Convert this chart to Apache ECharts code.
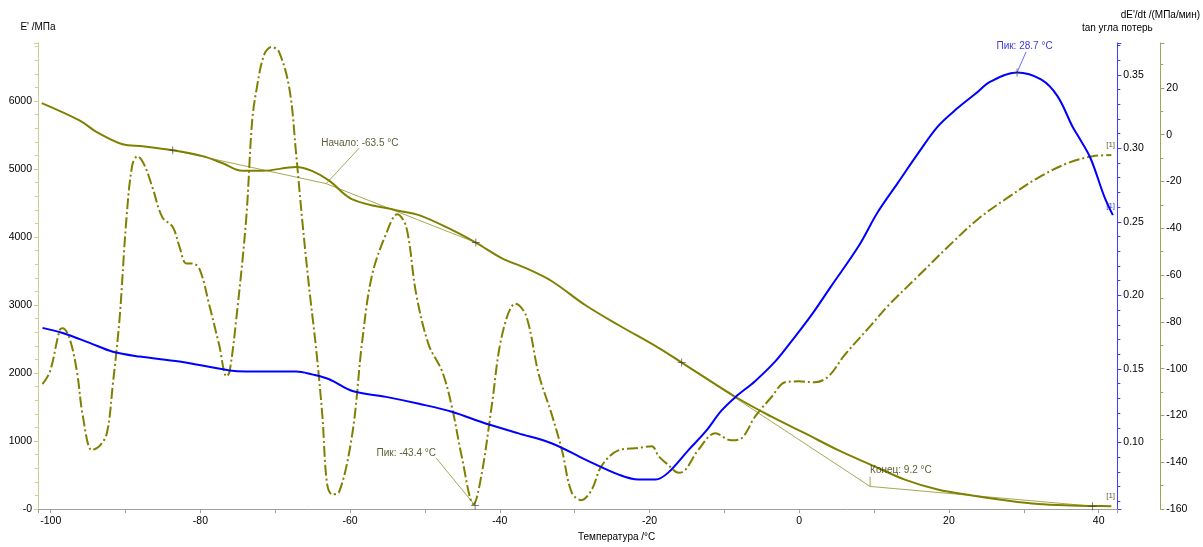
<!DOCTYPE html>
<html><head><meta charset="utf-8">
<script src="https://cdn.jsdelivr.net/npm/echarts@6/dist/echarts.min.js"></script>
<style>html,body{margin:0;padding:0;background:#fff}#c{width:1203px;height:547px}</style>
</head><body><div id="c"></div>
<script>
// ---- data (temperature °C, value) ----
const eModulus = [
  [-101.2,5970],[-96.1,5712],[-93.9,5547],[-90.4,5364],[-87.7,5335],[-83.7,5277],[-79.7,5190],
  [-77.1,5089],[-74.4,4973],[-71.7,4973],[-67.2,5031],[-65.1,4973],[-62.8,4829],[-59.7,4554],
  [-53.9,4395],[-50.8,4323],[-46.4,4106],[-43.2,3918],[-39.7,3687],[-36.5,3542],[-33.1,3354],
  [-28.5,2993],[-24.1,2703],[-18.8,2371],[-15.7,2154],[-8.5,1648],[-3.7,1359],[0.8,1113],
  [5.2,867],[9.6,651],[14.1,434],[18.5,289],[22.9,202],[27.5,130],[31.9,75],[36.3,52],
  [39.5,45],[41.7,43]
];
const tanDelta = [
  [-101.1,0.1779],[-98.4,0.1744],[-94.8,0.1677],[-91.7,0.1617],[-88.1,0.1584],[-82.8,0.1550],
  [-76.1,0.1490],[-73.9,0.1483],[-70.8,0.1483],[-67.2,0.1483],[-65.1,0.1463],[-62.8,0.1430],
  [-59.7,0.1350],[-55.2,0.1310],[-50.8,0.1263],[-46.4,0.1209],[-41.9,0.1129],[-37.5,0.1062],
  [-33.1,0.0995],[-28.5,0.0882],[-24.1,0.0781],[-21.5,0.0748],[-19.2,0.0748],[-17.5,0.0795],
  [-14.8,0.0948],[-12.5,0.1075],[-10.4,0.1216],[-8.5,0.1310],[-5.9,0.1417],[-3.2,0.1551],
  [-1.1,0.1684],[1.6,0.1864],[4.3,0.2065],[7.9,0.2332],[10.5,0.2567],[13.2,0.2767],
  [15.9,0.2967],[18.5,0.3148],[21.2,0.3275],[23.5,0.3369],[25.6,0.3455],[29.1,0.3515],
  [32.3,0.3468],[34.5,0.3355],[36.5,0.3148],[37.2,0.3088],[38.9,0.2934],[40.8,0.2666],[41.9,0.2546]
];
const dEdt = [
  [-101.1,-106.6],[-100.1,-101.2],[-98.8,-83.5],[-98.4,-82.7],[-97.5,-86.9],[-96.5,-101.2],
  [-95.7,-120.5],[-94.5,-134.8],[-93.5,-133.1],[-92.5,-127.6],[-91.7,-106.6],[-90.8,-78.5],
  [-89.9,-36.5],[-89.1,-12.9],[-88.4,-9.2],[-87.5,-12.9],[-86.4,-22.6],[-85.1,-35.2],
  [-83.7,-39.4],[-82.8,-47.8],[-81.9,-55.0],[-81.1,-55.0],[-80.1,-57.5],[-78.8,-73.0],
  [-77.5,-89.8],[-76.5,-103.3],[-76.1,-101.2],[-75.2,-78.5],[-73.9,-36.5],[-73.1,5.5],
  [-72.5,19.4],[-71.5,34.1],[-70.5,37.5],[-69.5,35.4],[-68.1,19.4],[-67.2,-8.7],[-66.4,-36.5],
  [-65.5,-64.6],[-64.5,-92.8],[-63.7,-120.5],[-63.1,-148.7],[-62.4,-153.7],[-61.5,-152.9],
  [-59.7,-127.6],[-58.4,-88.6],[-57.1,-60.4],[-55.2,-42.4],[-53.7,-34.0],[-52.5,-39.4],
  [-51.2,-67.6],[-49.5,-89.8],[-47.7,-101.2],[-46.4,-116.3],[-45.1,-137.3],[-43.5,-157.9],
  [-42.4,-144.5],[-41.1,-116.3],[-39.7,-85.6],[-37.9,-72.2],[-36.5,-77.2],[-34.8,-102.4],
  [-33.1,-119.2],[-31.7,-134.8],[-30.4,-152.9],[-29.1,-156.2],[-27.7,-151.6],[-26.4,-141.5],
  [-24.1,-134.8],[-21.5,-133.9],[-19.7,-133.1],[-18.8,-137.3],[-17.5,-141.1],[-16.1,-144.5],
  [-15.2,-143.2],[-13.5,-134.8],[-11.2,-127.6],[-9.1,-130.6],[-7.7,-129.7],[-5.9,-120.5],
  [-3.7,-112.1],[-1.9,-105.8],[-0.1,-105.4],[2.1,-105.8],[3.9,-103.3],[6.1,-94.0],
  [9.6,-81.4],[11.9,-73.0],[15.9,-60.4],[19.9,-47.8],[23.9,-36.0],[27.9,-26.8],
  [31.9,-18.4],[35.9,-12.1],[39.2,-9.2],[41.7,-8.7]
];
// onset / end construction (on E' axis)
const onsetTangents = [[-83.7,5277],[-63.2,4785],[-43.2,3918]];
const endTangents = [[-15.7,2154],[9.47,333],[39.2,43]];
const eMarkers = [[-83.7,5277],[-43.2,3918],[-15.7,2154],[39.2,43]];
const dEdtPeak = [[-43.3,-158.5]];
const tanPeak = [[29.1,0.3515]];
// annotation leaders
const onsetLeader = [[-63.2,4785],[-58.8,5306]];
const endLeader = [[9.47,333],[9.47,477]];
const dEdtLeader = [[-43.3,-158.5],[-48.5,-138.2]];
const tanLeader = [[29.1,0.3515],[30.3,0.3655]];
// annotation texts
const eLabels = [
  {value:[-58.7,5378], name:'Начало: -63.5 °C', align:'center'},
  {value:[9.47,564], name:'Конец: 9.2 °C', align:'left'},
  {value:[41.6,202], name:'[1]', align:'center', small:true}
];
const dEdtLabels = [
  {value:[-52.5,-136], name:'Пик: -43.4 °C', align:'center'},
  {value:[41.6,-4.5], name:'[1]', align:'center', small:true}
];
const tanLabels = [
  {value:[30.1,0.3696], name:'Пик: 28.7 °C', align:'center'},
  {value:[41.6,0.2606], name:'[1]', align:'center', small:true}
];

const FONT = '"Liberation Sans", Arial, sans-serif';
const OLIVE = '#808000';
const THIN = '#a8a858';
const TXT_OLIVE = '#333300';
const PLUS = 'path://M0,4.5H10V5.5H0Z M4.5,0H5.5V10H4.5Z';

function labelSeries(data, yIdx, color) {
  return {
    type: 'scatter', yAxisIndex: yIdx, symbolSize: 0, silent: true, z: 10,
    data: data.map(d => ({
      value: d.value, name: d.name,
      label: {
        show: true, position: [0, 0], formatter: '{b}',
        align: d.align, verticalAlign: 'middle',
        color: color, fontFamily: FONT, fontSize: d.small ? 8 : 10
      }
    }))
  };
}
function thinLine(data, yIdx, color) {
  return {type:'line', yAxisIndex:yIdx, data:data, symbol:'none', silent:true,
    lineStyle:{color:color, width:1}, z:3};
}

const chart = echarts.init(document.getElementById('c'), null, {renderer:'canvas'});
chart.setOption({
  animation: false,
  backgroundColor: '#fff',
  grid: {left: 38, right: 83, top: 43, bottom: 30, containLabel: false},
  xAxis: {
    type: 'value', min: -101.7, max: 42.5, splitNumber: 7,
    axisLine: {show: true, onZero: false, lineStyle: {color: '#a0a0a0'}},
    axisTick: {show: true, length: 4, lineStyle: {color: '#a0a0a0'}},
    minorTick: {show: true, splitNumber: 2, length: 4, lineStyle: {color: '#a0a0a0'}},
    splitLine: {show: false}, minorSplitLine: {show: false},
    axisLabel: {showMinLabel: false, showMaxLabel: false, margin: 7, color: '#000',
      fontFamily: FONT, fontSize: 10.5},
    name: 'Температура /°C', nameLocation: 'middle', nameGap: 17,
    nameTextStyle: {color: '#000', fontFamily: FONT, fontSize: 10, padding: [0, 0, 0, 78]}
  },
  yAxis: [
    {
      type: 'value', position: 'left', min: 0, max: 6853, interval: 1000,
      axisLine: {show: true, onZero: false, lineStyle: {color: '#cfcf95'}},
      axisTick: {show: true, length: 4, lineStyle: {color: '#cfcf95'}},
      minorTick: {show: true, splitNumber: 5, length: 3, lineStyle: {color: '#cfcf95'}},
      splitLine: {show: false},
      axisLabel: {showMaxLabel: false, margin: 6, color: '#000', fontFamily: FONT, fontSize: 10.5,
        formatter: v => v === 0 ? '-0' : String(v)},
      name: "E' /МПа", nameLocation: 'end', nameGap: 11,
      nameTextStyle: {color: '#000', fontFamily: FONT, fontSize: 10, align: 'center'}
    },
    {
      type: 'value', position: 'right', offset: 0, min: 0.0547, max: 0.3716, splitNumber: 6,
      axisLine: {show: true, onZero: false, lineStyle: {color: '#3c3cff'}},
      axisTick: {show: true, length: 4, lineStyle: {color: '#3c3cff'}},
      minorTick: {show: true, splitNumber: 5, length: 3, lineStyle: {color: '#3c3cff'}},
      splitLine: {show: false},
      axisLabel: {showMinLabel: false, showMaxLabel: false, margin: 6, color: '#000',
        fontFamily: FONT, fontSize: 10.5, formatter: v => v.toFixed(2)},
      name: 'tan угла потерь', nameLocation: 'end', nameGap: 10,
      nameTextStyle: {color: '#000', fontFamily: FONT, fontSize: 10, align: 'center'}
    },
    {
      type: 'value', position: 'right', offset: 43, min: -160, max: 39.2, interval: 20,
      axisLine: {show: true, onZero: false, lineStyle: {color: '#a3a35c'}},
      axisTick: {show: true, length: 4, lineStyle: {color: '#a3a35c'}},
      minorTick: {show: true, splitNumber: 2, length: 3, lineStyle: {color: '#a3a35c'}},
      splitLine: {show: false},
      axisLabel: {showMaxLabel: false, margin: 6, color: '#000', fontFamily: FONT, fontSize: 10.5},
      name: "dE'/dt /(МПа/мин)", nameLocation: 'end', nameGap: 23,
      nameTextStyle: {color: '#000', fontFamily: FONT, fontSize: 10, align: 'center'}
    }
  ],
  series: [
    thinLine(onsetTangents, 0, THIN),
    thinLine(endTangents, 0, THIN),
    thinLine(onsetLeader, 0, THIN),
    thinLine(endLeader, 0, THIN),
    thinLine(dEdtLeader, 2, THIN),
    thinLine(tanLeader, 1, '#6a6aff'),
    {type: 'line', name: "E'", yAxisIndex: 0, data: eModulus, symbol: 'none', smooth: 0.35,
      lineStyle: {color: OLIVE, width: 2}, z: 5},
    {type: 'line', name: 'tan', yAxisIndex: 1, data: tanDelta, symbol: 'none', smooth: 0.35,
      lineStyle: {color: '#0000ff', width: 2}, z: 5},
    {type: 'line', name: 'dE/dt', yAxisIndex: 2, data: dEdt, symbol: 'none', smooth: 0.35,
      lineStyle: {color: OLIVE, width: 2, type: [11, 3, 2, 3]}, z: 4},
    {type: 'scatter', yAxisIndex: 0, data: eMarkers, symbol: PLUS, symbolSize: 8,
      itemStyle: {color: '#333'}, silent: true, z: 8},
    {type: 'scatter', yAxisIndex: 2, data: dEdtPeak, symbol: PLUS, symbolSize: 8,
      itemStyle: {color: '#333'}, silent: true, z: 8},
    {type: 'scatter', yAxisIndex: 1, data: tanPeak, symbol: PLUS, symbolSize: 8,
      itemStyle: {color: '#333'}, silent: true, z: 8},
    labelSeries(eLabels, 0, TXT_OLIVE),
    labelSeries(dEdtLabels, 2, TXT_OLIVE),
    labelSeries(tanLabels, 1, '#0000cc')
  ]
});
</script></body></html>
